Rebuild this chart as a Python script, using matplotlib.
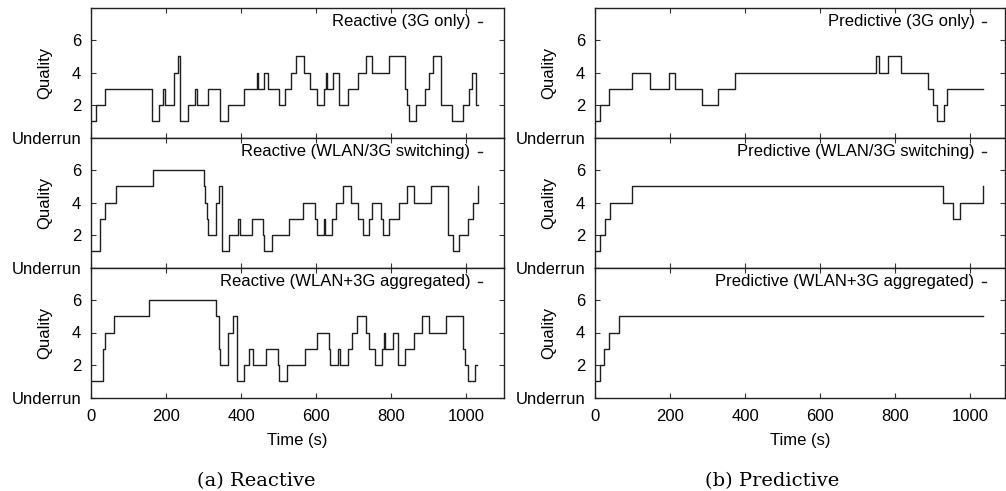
import matplotlib
matplotlib.use("Agg")
import matplotlib.pyplot as plt

plt.rcParams['font.family'] = ['Liberation Sans', 'DejaVu Sans']
plt.rcParams['font.size'] = 12

# Axis ticks
quality_ticks = [0, 2, 4, 6]
quality_labels = ['Underrun', '2', '4', '6']
time_ticks = [0, 200, 400, 600, 800, 1000]

# Reactive, 3G only: switch times (s) and quality level after each switch
reactive_3g_t = [0, 13, 36, 163, 182, 191, 197, 220, 231, 237, 258, 276, 282, 313, 344, 364,
                 409, 442, 444, 460, 472, 500, 518, 532, 547, 569, 584, 602, 620, 627, 629,
                 646, 662, 684, 711, 732, 749, 794, 838, 843, 849, 867, 891, 902, 911, 933,
                 962, 991, 1007, 1016, 1027]
reactive_3g_q = [1, 2, 3, 1, 2, 3, 2, 4, 5, 1, 2, 3, 2, 3, 1, 2,
                 3, 4, 3, 4, 3, 2, 3, 4, 5, 4, 3, 2, 3, 4, 3,
                 4, 2, 3, 4, 5, 4, 5, 3, 2, 1, 2, 3, 4, 5, 2,
                 1, 2, 3, 4, 2]
reactive_3g_end = 1031

# Reactive, WLAN/3G switching
reactive_sw_t = [0, 25, 38, 67, 166, 300, 305, 309, 313, 332, 340, 349, 369, 393, 398, 428,
                 458, 462, 483, 527, 566, 597, 602, 620, 623, 642, 652, 671, 693, 711, 724,
                 742, 749, 773, 778, 794, 822, 842, 862, 907, 951, 964, 982, 1004, 1018, 1031]
reactive_sw_q = [1, 3, 4, 5, 6, 5, 4, 3, 2, 4, 5, 1, 2, 3, 2, 3,
                 2, 1, 2, 3, 4, 3, 2, 3, 2, 3, 4, 5, 4, 3, 2,
                 3, 4, 3, 2, 3, 4, 5, 4, 5, 2, 1, 2, 3, 4, 5]
reactive_sw_end = 1031

# Reactive, WLAN+3G aggregated
reactive_ag_t = [0, 33, 36, 62, 154, 332, 340, 344, 365, 378, 388, 409, 422, 433, 467, 498,
                 502, 522, 570, 602, 634, 638, 658, 664, 684, 696, 709, 733, 740, 756, 776,
                 782, 784, 804, 818, 837, 862, 882, 902, 947, 991, 996, 1004, 1025]
reactive_ag_q = [1, 3, 4, 5, 6, 5, 3, 2, 4, 5, 1, 2, 3, 2, 3, 2,
                 1, 2, 3, 4, 3, 2, 3, 2, 3, 4, 5, 4, 3, 2, 3,
                 4, 3, 4, 2, 3, 4, 5, 4, 5, 3, 2, 1, 2]
reactive_ag_end = 1029

# Predictive, 3G only
predictive_3g_t = [0, 13, 36, 98, 147, 196, 213, 284, 329, 373, 748, 756, 780, 816, 889,
                   902, 911, 931, 938]
predictive_3g_q = [1, 2, 3, 4, 3, 4, 3, 2, 3, 4, 5, 4, 5, 4, 3, 2, 1, 2, 3]
predictive_3g_end = 1034

# Predictive, WLAN/3G switching
predictive_sw_t = [0, 12, 27, 40, 98, 927, 954, 973, 1034]
predictive_sw_q = [1, 2, 3, 4, 5, 4, 3, 4, 5]
predictive_sw_end = 1034

# Predictive, WLAN+3G aggregated
predictive_ag_t = [0, 12, 24, 38, 65]
predictive_ag_q = [1, 2, 3, 4, 5]
predictive_ag_end = 1034

panels = [
    [("Reactive (3G only)", reactive_3g_t, reactive_3g_q, reactive_3g_end),
     ("Reactive (WLAN/3G switching)", reactive_sw_t, reactive_sw_q, reactive_sw_end),
     ("Reactive (WLAN+3G aggregated)", reactive_ag_t, reactive_ag_q, reactive_ag_end)],
    [("Predictive (3G only)", predictive_3g_t, predictive_3g_q, predictive_3g_end),
     ("Predictive (WLAN/3G switching)", predictive_sw_t, predictive_sw_q, predictive_sw_end),
     ("Predictive (WLAN+3G aggregated)", predictive_ag_t, predictive_ag_q, predictive_ag_end)],
]
captions = ["(a) Reactive", "(b) Predictive"]

W, H = 1006, 491
fig = plt.figure(figsize=(W / 100, H / 100), dpi=100)

col_left = [91, 595]
col_width = [412.5, 410]
col_xmax = [1100, 1093]
row_top = 7.5
row_h = 130
line_color = '#1e1e1e'

for c in range(2):
    for r in range(3):
        title, t, q, end = panels[c][r]
        bottom_px = row_top + row_h * (r + 1)
        ax = fig.add_axes([col_left[c] / W, 1 - bottom_px / H,
                           col_width[c] / W, row_h / H])
        ax.step(list(t) + [end], list(q) + [q[-1]], where='post',
                color=line_color, lw=1.0)
        ax.set_xlim(0, col_xmax[c])
        ax.set_ylim(0, 8)
        ax.set_yticks(quality_ticks)
        ax.set_yticklabels(quality_labels)
        ax.set_xticks(time_ticks)
        ax.tick_params(direction='in', length=3.5, width=0.8, top=True, right=True,
                       labelsize=12, color='#333333')
        ax.tick_params(axis='y', pad=7)
        ax.tick_params(axis='x', pad=8)
        for s in ax.spines.values():
            s.set_linewidth(1.0)
            s.set_color('#222222')
        ax.set_ylabel("Quality", fontsize=12)
        ax.yaxis.set_label_coords(-0.094, 0.5)
        if r < 2:
            ax.set_xticklabels([])
        else:
            ax.set_xlabel("Time (s)", fontsize=12)
            ax.xaxis.set_label_coords(0.5, -0.27)
        # key entry: label text and short sample line
        ax.text(1012, 7.12, title, ha='right', va='center', fontsize=12)
        ax.plot([1031, 1042], [7.12, 7.12], color=line_color, lw=1.0)

fig.text(256 / W, 1 - 481 / H, captions[0], ha='center', va='center',
         family='DejaVu Serif', fontsize=14)
fig.text(772 / W, 1 - 481 / H, captions[1], ha='center', va='center',
         family='DejaVu Serif', fontsize=14)

fig.savefig("out.png", dpi=100)
